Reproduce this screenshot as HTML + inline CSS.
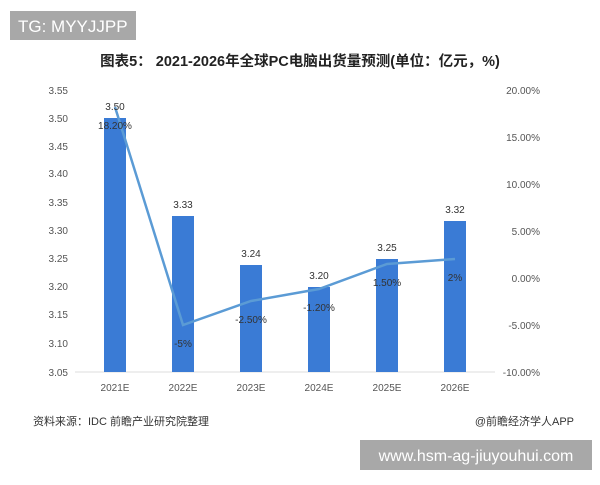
<!DOCTYPE html><html><head><meta charset="utf-8"><style>
body{margin:0;background:#fff;width:600px;height:480px;overflow:hidden;font-family:"Liberation Sans","Noto Sans CJK SC",sans-serif}
</style></head><body>
<svg width="600" height="480" xmlns="http://www.w3.org/2000/svg" font-family="Liberation Sans, Noto Sans CJK SC, sans-serif">
<rect x="10" y="11" width="126" height="29" fill="#a8a8a8"/>
<text x="18" y="32" font-size="17" fill="#fff">TG: MYYJJPP</text>
<text x="300" y="66" font-size="14.5" font-weight="bold" text-anchor="middle" fill="#222">图表5： 2021-2026年全球PC电脑出货量预测(单位：亿元，%)</text>
<g font-size="10" fill="#555" text-anchor="end">
<text x="68" y="94">3.55</text><text x="68" y="122">3.50</text><text x="68" y="150">3.45</text><text x="68" y="177">3.40</text><text x="68" y="206">3.35</text><text x="68" y="234">3.30</text><text x="68" y="262">3.25</text><text x="68" y="290">3.20</text><text x="68" y="318">3.15</text><text x="68" y="347">3.10</text><text x="68" y="376">3.05</text>
</g>
<g font-size="10" fill="#555" text-anchor="end">
<text x="540" y="94">20.00%</text><text x="540" y="141">15.00%</text><text x="540" y="188">10.00%</text><text x="540" y="235">5.00%</text><text x="540" y="282">0.00%</text><text x="540" y="329">-5.00%</text><text x="540" y="376">-10.00%</text>
</g>
<line x1="75" y1="372" x2="495" y2="372" stroke="#ddd"/>
<g fill="#3a7bd5">
<rect x="104" y="118" width="22" height="254"/>
<rect x="172" y="216" width="22" height="156"/>
<rect x="240" y="265" width="22" height="107"/>
<rect x="308" y="287" width="22" height="85"/>
<rect x="376" y="259" width="22" height="113"/>
<rect x="444" y="221" width="22" height="151"/>
</g>
<polyline points="115,107 183,325 251,301 319,289 387,264 455,259" fill="none" stroke="#5b9bd5" stroke-width="2.5"/>
<g font-size="10" fill="#333" text-anchor="middle">
<text x="115" y="110">3.50</text><text x="183" y="208">3.33</text><text x="251" y="257">3.24</text><text x="319" y="279">3.20</text><text x="387" y="251">3.25</text><text x="455" y="213">3.32</text>
<text x="115" y="129">18.20%</text><text x="183" y="347">-5%</text><text x="251" y="323">-2.50%</text><text x="319" y="311">-1.20%</text><text x="387" y="286">1.50%</text><text x="455" y="281">2%</text>
</g>
<g font-size="10" fill="#555" text-anchor="middle">
<text x="115" y="391">2021E</text><text x="183" y="391">2022E</text><text x="251" y="391">2023E</text><text x="319" y="391">2024E</text><text x="387" y="391">2025E</text><text x="455" y="391">2026E</text>
</g>
<text x="33" y="425" font-size="11" fill="#333">资料来源：IDC 前瞻产业研究院整理</text>
<text x="574" y="425" font-size="11" fill="#333" text-anchor="end">@前瞻经济学人APP</text>
<rect x="360" y="440" width="232" height="30" fill="#a8a8a8"/>
<text x="476" y="461" font-size="16" fill="#fff" text-anchor="middle">www.hsm-ag-jiuyouhui.com</text>
</svg></body></html>
